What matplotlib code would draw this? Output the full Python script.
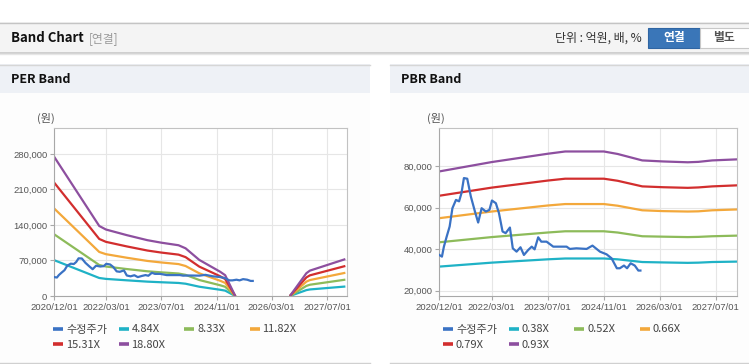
import matplotlib
matplotlib.use("Agg")
import matplotlib.pyplot as plt
import matplotlib.dates as mdates
from matplotlib.patches import Rectangle
from matplotlib.ticker import FuncFormatter
import numpy as np
import pandas as pd

# ---- data ----
tick_dates = ["2020-12-01", "2022-03-01", "2023-07-01", "2024-11-01", "2026-03-01", "2027-07-01"]
tick_labels = ["2020/12/01", "2022/03/01", "2023/07/01", "2024/11/01", "2026/03/01", "2027/07/01"]

price_dates = ["2020-12-01", "2020-12-24", "2021-01-10", "2021-02-03", "2021-03-01", "2021-03-25",
               "2021-04-25", "2021-05-22", "2021-06-12", "2021-07-03", "2021-08-01", "2021-09-01",
               "2021-10-07", "2021-11-04", "2021-12-04", "2022-01-10", "2022-02-10", "2022-03-04",
               "2022-04-07", "2022-05-04", "2022-06-04", "2022-07-01", "2022-08-07", "2022-09-01",
               "2022-10-04", "2022-11-07", "2022-12-07", "2023-01-13", "2023-02-13", "2023-03-10",
               "2023-04-10", "2023-05-07", "2023-06-22", "2023-08-19", "2023-10-16", "2023-12-13",
               "2024-01-10", "2024-03-07", "2024-06-04", "2024-07-25", "2024-09-28", "2024-11-25",
               "2025-01-07", "2025-02-22", "2025-03-20", "2025-04-25", "2025-05-22", "2025-06-22",
               "2025-07-28", "2025-08-28", "2025-09-15"]
price = [37200, 36400, 41200, 46000, 50900, 59700, 63700, 63000, 67000, 74200, 73900, 65400,
         58100, 52800, 59700, 58100, 58900, 63400, 62100, 57300, 48500, 47700, 50400, 40400,
         38800, 40900, 37200, 39600, 41200, 39900, 45700, 43600, 43600, 41200, 41200, 41200,
         40100, 40400, 40100, 41700, 38800, 37500, 35600, 30800, 30800, 32100, 30800, 33200,
         32100, 29700, 29700]

per_dates = ["2020-12-01", "2022-01-01", "2022-03-01", "2022-09-01", "2023-03-01", "2023-07-01",
             "2023-12-01", "2024-02-01", "2024-06-01", "2024-12-01", "2025-01-15", "2025-04-10",
             "2025-12-01",
             "2026-08-15", "2027-01-01", "2027-02-01", "2027-12-01"]
per_484 = [70500, 35500, 33700, 30900, 28300, 27100, 25700, 24200, 18300, 12300, 10600, 500,
           np.nan, 500, 11600, 12900, 18500]
per_833 = [121400, 61100, 58100, 53100, 48700, 46600, 44300, 41700, 31500, 21200, 18200, 800,
           np.nan, 800, 19900, 22200, 31900]
per_1182 = [172200, 86800, 82400, 75400, 69100, 66100, 62900, 59100, 44700, 30100, 25800, 1200,
            np.nan, 1200, 28300, 31400, 45300]
per_1531 = [223100, 112400, 106700, 97700, 89600, 85600, 81500, 76600, 57900, 39000, 33400, 1500,
            np.nan, 1500, 36600, 40700, 58600]
per_1880 = [273900, 138000, 131000, 119900, 110000, 105100, 100000, 94000, 71100, 47900, 41000, 1900,
            np.nan, 1900, 44900, 50000, 72000]

pbr_dates = ["2020-12-01", "2022-03-01", "2023-07-01", "2023-12-01", "2024-11-01", "2025-03-01",
             "2025-10-01", "2026-04-01", "2026-11-01", "2027-02-01", "2027-06-01", "2028-01-01"]
pbr_038 = [31600, 33500, 35100, 35500, 35500, 35100, 33800, 33600, 33400, 33500, 33800, 34000]
pbr_052 = [43300, 45800, 48000, 48600, 48600, 48000, 46200, 46000, 45800, 45900, 46200, 46500]
pbr_066 = [54900, 58100, 61000, 61700, 61700, 60900, 58700, 58300, 58100, 58200, 58700, 59100]
pbr_079 = [65700, 69600, 73000, 73900, 73900, 72900, 70200, 69800, 69500, 69700, 70200, 70700]
pbr_093 = [77400, 81900, 85900, 87000, 87000, 85800, 82700, 82200, 81800, 82000, 82700, 83200]

per_labels = ["수정주가", "4.84X", "8.33X", "11.82X", "15.31X", "18.80X"]
pbr_labels = ["수정주가", "0.38X", "0.52X", "0.66X", "0.79X", "0.93X"]
colors = ["#3a72c4", "#1fb2c6", "#8dbb5a", "#f3a83b", "#d22e2e", "#8d4f9f"]

TICK_FONT = ["Liberation Sans", "DejaVu Sans"]
LEG_FONT = ["Liberation Sans Narrow", "Noto Sans CJK KR"]
KR_FONT = ["Noto Sans CJK KR", "DejaVu Sans"]

fig = plt.figure(figsize=(7.49, 3.64), dpi=100)
fig.patch.set_facecolor("white")

# page furniture in pixel coordinates
bg = fig.add_axes([0, 0, 1, 1])
bg.set_xlim(0, 749)
bg.set_ylim(364, 0)
bg.axis("off")

bg.add_patch(Rectangle((0, 22), 749, 31, facecolor="#f4f4f4", edgecolor="none"))
bg.plot([0, 749], [22.5, 22.5], color="#c4c4c4", lw=1)
bg.plot([0, 749], [53.2, 53.2], color="#c8c8c8", lw=1.2)
bg.plot([0, 749], [54.3, 54.3], color="#e6e6e6", lw=1)
bg.text(11, 38.5, "Band Chart", family=KR_FONT, weight="bold", fontsize=9.5, color="#111", va="center")
bg.text(89, 38.5, "[연결]", family=KR_FONT, fontsize=8.5, color="#9a9a9a", va="center")
bg.text(642, 38.5, "단위 : 억원, 배, %", family=KR_FONT, fontsize=8.6, color="#333", va="center", ha="right")
bg.add_patch(Rectangle((648, 28), 52, 20, facecolor="#3a76b8", edgecolor="#2f65a3", lw=0.8))
bg.text(674, 38, "연결", family=KR_FONT, weight="bold", fontsize=8.5, color="white", va="center", ha="center")
bg.add_patch(Rectangle((700, 28), 52, 20, facecolor="white", edgecolor="#c8c8c8", lw=0.8))
bg.text(724, 38, "별도", family=KR_FONT, weight="bold", fontsize=8.5, color="#555", va="center", ha="center")

for x0, x1, title in [(0, 370, "PER Band"), (390, 749, "PBR Band")]:
    bg.add_patch(Rectangle((x0, 93), x1 - x0, 270, facecolor="#fdfdfd", edgecolor="none"))
    bg.add_patch(Rectangle((x0, 64), x1 - x0, 29, facecolor="#eef1f6", edgecolor="none"))
    bg.plot([x0, x1], [64.5, 64.5], color="#d6d6d6", lw=1)
    bg.plot([x0, x1], [362.5, 362.5], color="#d0d0d0", lw=1)
    bg.text(x0 + 11, 79.5, title, family=KR_FONT, weight="bold", fontsize=9, color="#111", va="center")
    bg.text(x0 + 37, 118, "(원)", family=KR_FONT, fontsize=8, color="#555", va="center")


def draw_legend(x0, labels):
    for i, (lab, col) in enumerate(zip(labels, colors)):
        row, c = divmod(i, 4)
        x = x0 + 65.5 * c
        y = 329 + 15 * row
        bg.plot([x, x + 10], [y, y], color=col, lw=2.6, solid_capstyle="butt")
        bg.text(x + 13, y + 0.5, lab, family=LEG_FONT, fontsize=8, color="#444", va="center")


def style_axes(ax, start, end, ymin, ymax, yticks):
    ax.set_facecolor("white")
    ax.set_xlim(pd.Timestamp(start), pd.Timestamp(end))
    ax.set_ylim(ymin, ymax)
    ax.set_yticks(yticks)
    ax.yaxis.set_major_formatter(FuncFormatter(lambda v, p: f"{int(v):,}"))
    ax.set_xticks(pd.to_datetime(tick_dates))
    ax.set_xticklabels(tick_labels)
    ax.grid(True, color="#e6e6e6", lw=0.8)
    ax.set_axisbelow(True)
    for s in ["top", "right"]:
        ax.spines[s].set_color("#c2c2c2")
    for s in ["left", "bottom"]:
        ax.spines[s].set_color("#a8a8a8")
    ax.tick_params(length=3, width=0.8, color="#a8a8a8", labelcolor="#555", labelsize=6.8, pad=2)
    for lab in ax.get_xticklabels() + ax.get_yticklabels():
        lab.set_family(TICK_FONT)


# PER band
ax1 = fig.add_axes([54.3 / 749, 68 / 364, 292.7 / 749, 168 / 364])
pd_per = pd.to_datetime(per_dates)
for vals, col in zip([per_484, per_833, per_1182, per_1531, per_1880], colors[1:]):
    ax1.plot(pd_per, vals, color=col, lw=1.6)
ax1.plot(pd.to_datetime(price_dates), price, color=colors[0], lw=1.6, zorder=3)
style_axes(ax1, "2020-12-01", "2027-12-25", 0, 331000, [0, 70000, 140000, 210000, 280000])
draw_legend(53, per_labels)

# PBR band
ax2 = fig.add_axes([439.3 / 749, 68 / 364, 297.7 / 749, 168 / 364])
pd_pbr = pd.to_datetime(pbr_dates)
for vals, col in zip([pbr_038, pbr_052, pbr_066, pbr_079, pbr_093], colors[1:]):
    ax2.plot(pd_pbr, vals, color=col, lw=1.6)
ax2.plot(pd.to_datetime(price_dates), price, color=colors[0], lw=1.6, zorder=3)
style_axes(ax2, "2020-12-01", "2028-01-03", 17450, 98300, [20000, 40000, 60000, 80000])
draw_legend(443, pbr_labels)

fig.savefig("out.png", dpi=100, facecolor="white")
